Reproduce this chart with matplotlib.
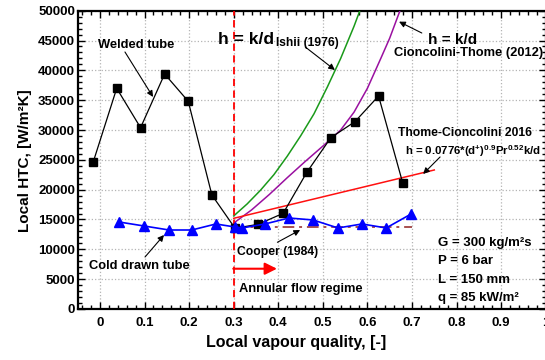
import numpy as np
import matplotlib
matplotlib.use('Agg')
import matplotlib.pyplot as plt
from matplotlib.ticker import MultipleLocator

plt.rcParams['font.family'] = ['Liberation Sans', 'DejaVu Sans']
plt.rcParams['font.weight'] = 'bold'
plt.rcParams['mathtext.default'] = 'regular'

# measured HTC, welded tube
x_welded = [-0.015, 0.0375, 0.091, 0.145, 0.198, 0.251, 0.303, 0.355, 0.411, 0.464, 0.518, 0.572, 0.625, 0.679]
h_welded = [24690, 36990, 30390, 39390, 34810, 19110, 13530, 14200, 16040, 22910, 28720, 31400, 35700, 21170]

# measured HTC, cold drawn tube
x_cold = [0.043, 0.099, 0.155, 0.206, 0.260, 0.303, 0.319, 0.370, 0.424, 0.478, 0.534, 0.588, 0.642, 0.698]
h_cold = [14580, 13910, 13240, 13240, 14250, 13740, 13580, 14250, 15250, 14920, 13580, 14250, 13580, 15920]

# h = k/d, Ishii (1976)
x_ishii = [0.30, 0.33, 0.36, 0.39, 0.42, 0.45, 0.48, 0.51, 0.54, 0.57, 0.583]
h_ishii = [15600, 17600, 19900, 22500, 25600, 29000, 32700, 37200, 42000, 47400, 50000]

# h = k/d, Cioncolini-Thome (2012)
x_ct = [0.30, 0.34, 0.38, 0.42, 0.46, 0.50, 0.54, 0.57, 0.60, 0.63, 0.65, 0.673]
h_ct = [14400, 16600, 19200, 22000, 24700, 27300, 30000, 33000, 37000, 42000, 45400, 50000]

# Thome-Cioncolini 2016
x_tc = [0.30, 0.75]
h_tc = [15200, 23300]

# Cooper (1984)
x_cooper = [0.30, 0.70]
h_cooper = [13700, 13700]

x_annular = 0.3

fig = plt.figure(figsize=(5.45, 3.6), dpi=100)
ax = fig.add_axes([0.1426, 0.1417, 0.8587, 0.8286])

ax.plot(x_ishii, h_ishii, color='#1a9a1a', lw=1.1, zorder=3)
ax.plot(x_ct, h_ct, color='#9a10a0', lw=1.1, zorder=3)
ax.plot(x_tc, h_tc, color='#ff1010', lw=1.1, zorder=3)
ax.plot(x_cooper, h_cooper, color='#a85050', lw=1.4, ls=(0, (6, 2.5, 1.5, 2.5)), zorder=3)
ax.plot(x_welded, h_welded, color='black', lw=0.9, marker='s', ms=6, zorder=4)
ax.plot(x_cold, h_cold, color='#0000ff', lw=1.2, marker='^', ms=7.5, zorder=4)
ax.axvline(x_annular, color='#ff0000', lw=1.3, ls=(0, (4, 2.5)), zorder=3)

ax.set_xlim(-0.05, 1.0)
ax.set_ylim(0, 50000)
ax.set_xticks(np.arange(0, 1.01, 0.1))
ax.set_xticklabels(['0', '0.1', '0.2', '0.3', '0.4', '0.5', '0.6', '0.7', '0.8', '0.9', '1'])
ax.set_yticks(np.arange(0, 50001, 5000))
ax.xaxis.set_minor_locator(MultipleLocator(0.02))
ax.yaxis.set_minor_locator(MultipleLocator(1000))
ax.tick_params(which='both', direction='in', top=True, right=True, labelsize=9.5, width=1)
ax.tick_params(which='major', length=5)
ax.tick_params(which='minor', length=3)
ax.tick_params(axis='x', pad=6)
ax.tick_params(axis='y', pad=2)
for lab in ax.get_xticklabels() + ax.get_yticklabels():
    lab.set_fontweight('bold')
ax.grid(True, which='major', color='#b4b4b4', ls=':', lw=0.9)
for s in ax.spines.values():
    s.set_linewidth(1.6)

ax.set_xlabel('Local vapour quality, [-]', fontsize=11.5, fontweight='bold')
ax.xaxis.set_label_coords(0.4676, -0.087)
ax.set_ylabel('Local HTC, [W/m²K]', fontsize=11, fontweight='bold')
ax.yaxis.set_label_coords(-0.0977, 0.496)

arrow = dict(arrowstyle='-|>', color='black', lw=0.8, mutation_scale=9, shrinkA=0, shrinkB=0)
fs = 9.3

ax.text(-0.0045, 44250, 'Welded tube', fontsize=fs, ha='left', va='center')
ax.annotate('', xy=(0.119, 35540), xytext=(0.056, 43080), arrowprops=arrow)

ax.text(0.265, 44420, 'h = k/d', fontsize=12.5, ha='left', va='baseline')
ax.text(0.395, 44080, 'Ishii (1976)', fontsize=8.7, ha='left', va='baseline')
ax.annotate('', xy=(0.527, 40060), xytext=(0.4605, 43920), arrowprops=arrow)

ax.text(0.736, 44500, 'h = k/d', fontsize=11, ha='left', va='baseline')
ax.text(0.66, 42900, 'Cioncolini-Thome (2012)', fontsize=fs, ha='left', va='center')
ax.annotate('', xy=(0.671, 48160), xytext=(0.722, 46260), arrowprops=arrow)

ax.text(0.669, 29450, 'Thome-Cioncolini 2016', fontsize=8.7, ha='left', va='center')
ax.text(0.6845, 25800, r'h = 0.0776*(d$^{+}$)$^{0.9}$Pr$^{0.52}$k/d', fontsize=8.2,
        ha='left', va='baseline')
ax.annotate('', xy=(0.725, 22630), xytext=(0.763, 25480), arrowprops=arrow)

ax.text(-0.0247, 7260, 'Cold drawn tube', fontsize=fs, ha='left', va='center')
ax.annotate('', xy=(0.1436, 12404), xytext=(0.101, 8716), arrowprops=arrow)

ax.text(0.3068, 9600, 'Cooper (1984)', fontsize=8.7, ha='left', va='center')
ax.annotate('', xy=(0.449, 13240), xytext=(0.398, 11180), arrowprops=arrow)

ax.annotate('', xy=(0.397, 6750), xytext=(0.299, 6750),
            arrowprops=dict(arrowstyle='-|>', color='#ff0000', lw=1.5, mutation_scale=18,
                            shrinkA=0, shrinkB=0))
ax.text(0.3126, 3300, 'Annular flow regime', fontsize=fs, ha='left', va='center')

params = ['G = 300 kg/m²s', 'P = 6 bar', 'L = 150 mm', 'q = 85 kW/m²']
for i, p in enumerate(params):
    ax.text(0.759, 10560 - i * 3080, p, fontsize=9.5, ha='left', va='baseline')

fig.savefig('out.png', dpi=100)
